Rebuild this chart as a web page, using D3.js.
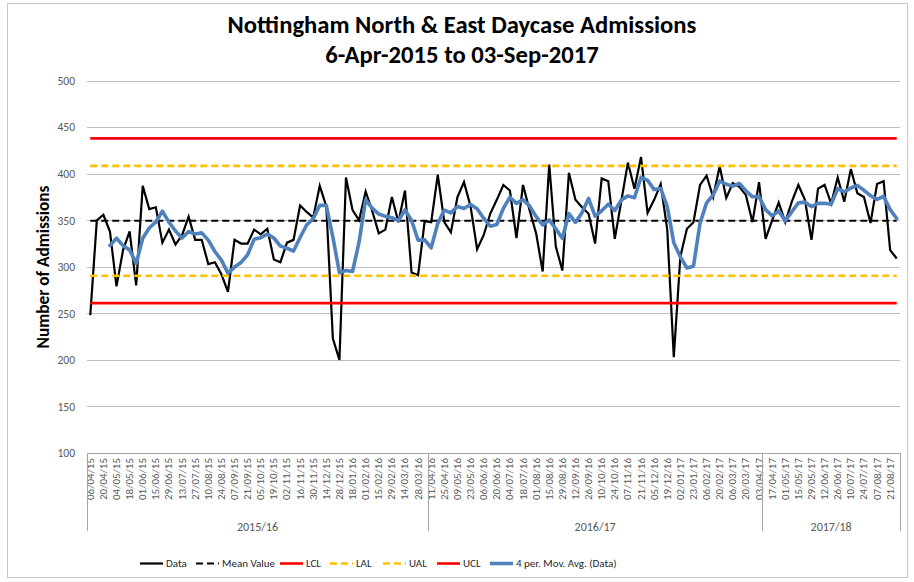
<!DOCTYPE html>
<html><head><meta charset="utf-8">
<script src="https://cdn.jsdelivr.net/npm/d3@7"></script>
<style>
html,body{margin:0;padding:0;background:#fff;}
svg{display:block;font-family:Carlito,Lato,"Open Sans",sans-serif;}
</style></head><body>
<svg id="chart" width="914" height="582"></svg>
<script>
// Week commencing dates (one point per week)
const weeks = [
  "06/04/15","13/04/15","20/04/15","27/04/15","04/05/15","11/05/15","18/05/15","25/05/15",
  "01/06/15","08/06/15","15/06/15","22/06/15","29/06/15","06/07/15","13/07/15","20/07/15",
  "27/07/15","03/08/15","10/08/15","17/08/15","24/08/15","31/08/15","07/09/15","14/09/15",
  "21/09/15","28/09/15","05/10/15","12/10/15","19/10/15","26/10/15","02/11/15","09/11/15",
  "16/11/15","23/11/15","30/11/15","07/12/15","14/12/15","21/12/15","28/12/15","11/01/16",
  "18/01/16","25/01/16","01/02/16","08/02/16","15/02/16","22/02/16","29/02/16","07/03/16",
  "14/03/16","21/03/16","28/03/16","04/04/16","11/04/16","18/04/16","25/04/16","02/05/16",
  "09/05/16","16/05/16","23/05/16","30/05/16","06/06/16","13/06/16","20/06/16","27/06/16",
  "04/07/16","11/07/16","18/07/16","25/07/16","01/08/16","08/08/16","15/08/16","22/08/16",
  "29/08/16","05/09/16","12/09/16","19/09/16","26/09/16","03/10/16","10/10/16","17/10/16",
  "24/10/16","31/10/16","07/11/16","14/11/16","21/11/16","28/11/16","05/12/16","12/12/16",
  "19/12/16","26/12/16","02/01/17","16/01/17","23/01/17","30/01/17","06/02/17","13/02/17",
  "20/02/17","27/02/17","06/03/17","13/03/17","20/03/17","27/03/17","03/04/17","10/04/17",
  "17/04/17","24/04/17","01/05/17","08/05/17","15/05/17","22/05/17","29/05/17","05/06/17",
  "12/06/17","19/06/17","26/06/17","03/07/17","10/07/17","17/07/17","24/07/17","31/07/17",
  "07/08/17","14/08/17","21/08/17","28/08/17"
];

// Financial years and how many weekly points fall in each
const years = ["2015/16", "2016/17", "2017/18"];
const yearWeekCounts = [52, 51, 21];

// Weekly daycase admissions
const admissions = [
  248,350,356,338,279,318,338,280,387,362,364,326,340,324,334,354,
  329,329,303,305,292,273,329,325,325,340,335,341,308,305,326,329,
  366,359,353,387,365,223,200,396,361,350,381,360,336,340,375,348,
  382,294,291,349,348,399,348,337,375,391,365,319,334,357,372,388,
  382,331,388,361,336,295,410,322,296,401,372,364,357,325,395,392,
  330,371,412,384,418,358,372,389,340,203,311,341,348,388,398,375,
  408,374,390,386,377,348,391,330,350,369,348,370,388,372,329,384,
  388,368,396,370,405,379,375,347,389,392,318,309
];

// Control and alert limits
const meanValue = 349.5;
const lowerControl = 261;
const lowerAlert = 290.5;
const upperAlert = 408.5;
const upperControl = 438;

const yTicks = [100, 150, 200, 250, 300, 350, 400, 450, 500];
const maPeriod = 4;

const titleLines = ["Nottingham North & East Daycase Admissions", "6-Apr-2015 to 03-Sep-2017"];
const yTitle = "Number of Admissions";
const legendLabels = ["Data", "Mean Value", "LCL", "LAL", "UAL", "UCL", "4 per. Mov. Avg. (Data)"];

// ---- layout ----
const svg = d3.select("#chart");
const plot = { left: 87, right: 900, top: 80.7, bottom: 453 };

const x = d3.scaleBand().domain(d3.range(weeks.length)).range([plot.left, plot.right]);
const cx = i => x(i) + x.bandwidth() / 2;
const y = d3.scaleLinear().domain([100, 500]).range([plot.bottom, plot.top]);

// chart frame
svg.append("rect").attr("x", 7.5).attr("y", 3.5).attr("width", 900).attr("height", 574)
  .attr("fill", "#fff").attr("stroke", "#c8c8c8").attr("stroke-width", 1);

// title
const titleG = svg.append("g").attr("font-weight", "bold").attr("fill", "#000").attr("text-anchor", "middle");
const t1 = titleG.append("text").attr("x", 462).attr("y", 33).attr("font-size", 20).text(titleLines[0]);
const fit = 469 / t1.node().getComputedTextLength();
const titleSize = 20 * fit;
t1.attr("font-size", titleSize);
titleG.append("text").attr("x", 462).attr("y", 63).attr("font-size", titleSize).text(titleLines[1]);

// horizontal gridlines
svg.append("g").selectAll("line").data(yTicks.filter(v => v > 100)).join("line")
  .attr("x1", plot.left).attr("x2", plot.right)
  .attr("y1", d => Math.round(y(d)) + 0.5).attr("y2", d => Math.round(y(d)) + 0.5)
  .attr("stroke", "#bfbfbf").attr("stroke-width", 1);

// y axis labels
const yAxis = d3.axisLeft(y).tickValues(yTicks).tickSize(0).tickPadding(12);
const yg = svg.append("g").attr("transform", `translate(${plot.left},0)`).call(yAxis);
yg.select(".domain").remove();
yg.selectAll("text").attr("font-family", "Carlito,Lato,sans-serif").attr("font-size", 11.5).attr("fill", "#595959");

// y title
const yt = svg.append("text").attr("transform", "translate(49,267) rotate(-90)")
  .attr("text-anchor", "middle").attr("font-weight", "bold").attr("font-size", 15).attr("fill", "#000").text(yTitle);
const yFit = 163 / yt.node().getComputedTextLength();
yt.attr("font-size", 15 * yFit);

// category axis
const axisY = Math.round(plot.bottom) + 0.5;
svg.append("line").attr("x1", plot.left).attr("x2", plot.right).attr("y1", axisY).attr("y2", axisY)
  .attr("stroke", "#a6a6a6");

svg.append("g").selectAll("text").data(weeks.map((w, i) => ({ w, i })).filter(d => d.i % 2 === 0)).join("text")
  .attr("transform", d => `translate(${cx(d.i)},${plot.bottom + 5}) rotate(-90)`)
  .attr("text-anchor", "end").attr("dominant-baseline", "central")
  .attr("font-size", 11).attr("fill", "#595959").text(d => d.w);

// year groups
const bounds = [0];
yearWeekCounts.forEach((n, k) => bounds.push(bounds[k] + n));
const bx = b => b >= weeks.length ? plot.right : x(b);
svg.append("g").selectAll("line").data(bounds).join("line")
  .attr("x1", b => Math.round(bx(b)) + 0.5).attr("x2", b => Math.round(bx(b)) + 0.5)
  .attr("y1", plot.bottom).attr("y2", 531).attr("stroke", "#a6a6a6");
svg.append("g").selectAll("text").data(years).join("text")
  .attr("x", (d, k) => (bx(bounds[k]) + bx(bounds[k + 1])) / 2).attr("y", 531)
  .attr("text-anchor", "middle").attr("font-size", 12).attr("fill", "#595959").text(d => d);

// series
const idx = d3.range(weeks.length);
const line = d3.line().x(d => cx(d[0])).y(d => y(d[1]));

svg.append("path").datum(idx.map(i => [i, admissions[i]]))
  .attr("d", line).attr("fill", "none").attr("stroke", "#000").attr("stroke-width", 2.2)
  .attr("stroke-linejoin", "miter");

const refLines = [
  { v: meanValue, color: "#000", dash: "7,4", w: 2 },
  { v: lowerControl, color: "#ff0000", dash: null, w: 2.6 },
  { v: lowerAlert, color: "#ffc000", dash: "7,4", w: 2.6 },
  { v: upperAlert, color: "#ffc000", dash: "7,4", w: 2.6 },
  { v: upperControl, color: "#ff0000", dash: null, w: 2.6 }
];
refLines.forEach(r => {
  svg.append("path").datum(idx.map(i => [i, r.v]))
    .attr("d", line).attr("fill", "none").attr("stroke", r.color).attr("stroke-width", r.w)
    .attr("stroke-dasharray", r.dash);
});

// 4-period moving average of the data
const movingAvg = idx.filter(i => i >= maPeriod - 1)
  .map(i => [i, d3.mean(admissions.slice(i - maPeriod + 1, i + 1))]);
svg.append("path").datum(movingAvg).attr("d", line).attr("fill", "none")
  .attr("stroke", "#4f81bd").attr("stroke-width", 3.6).attr("stroke-linejoin", "round").attr("stroke-linecap", "round");

// legend
const legendY = 563.5;
const legendX = [140, 196, 280, 330, 383, 437, 490];
const legendStyle = [
  { color: "#000", dash: null, w: 2.2 },
  { color: "#000", dash: "7,4", w: 2 },
  { color: "#ff0000", dash: null, w: 2.6 },
  { color: "#ffc000", dash: "7,4", w: 2.6 },
  { color: "#ffc000", dash: "7,4", w: 2.6 },
  { color: "#ff0000", dash: null, w: 2.6 },
  { color: "#4f81bd", dash: null, w: 3.6 }
];
const lg = svg.append("g");
legendLabels.forEach((lab, k) => {
  const s = legendStyle[k];
  lg.append("line").attr("x1", legendX[k]).attr("x2", legendX[k] + 23)
    .attr("y1", legendY).attr("y2", legendY)
    .attr("stroke", s.color).attr("stroke-width", s.w).attr("stroke-dasharray", s.dash);
  lg.append("text").attr("x", legendX[k] + 26).attr("y", legendY).attr("dominant-baseline", "central")
    .attr("font-size", 11).attr("fill", "#262626").text(lab);
});
</script>
</body></html>
